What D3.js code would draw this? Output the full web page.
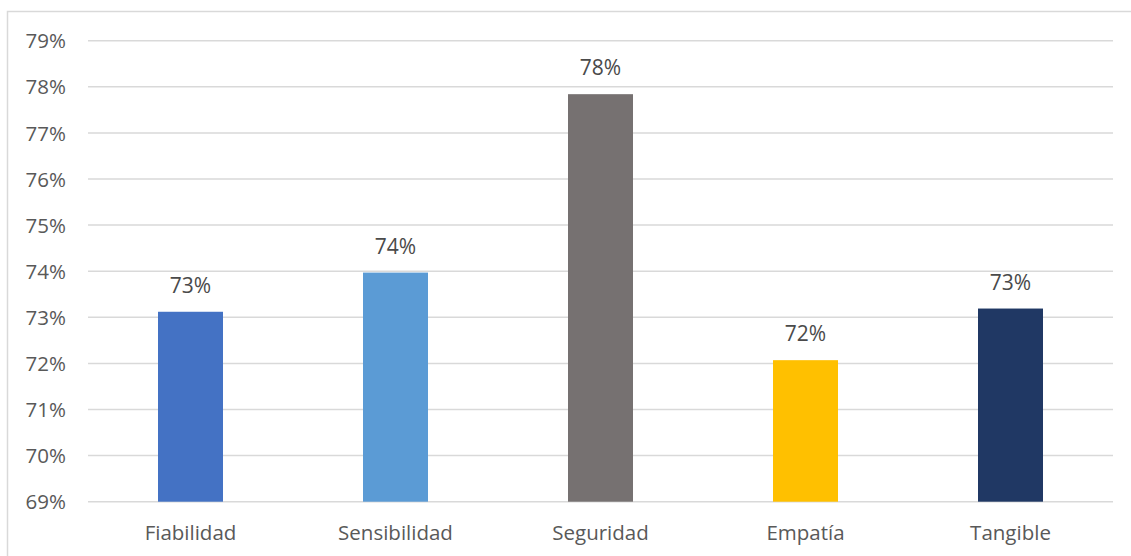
<!DOCTYPE html>
<html><head><meta charset="utf-8">
<script src="https://cdn.jsdelivr.net/npm/d3@7"></script>
<style>body{margin:0;background:#fff}svg{display:block}text{font-family:"Open Sans","Noto Sans",sans-serif}</style>
</head><body>
<script>
const categories = ["Fiabilidad","Sensibilidad","Seguridad","Empatía","Tangible"];
const values = [0.7312, 0.7397, 0.7784, 0.7207, 0.7319];
const valueLabels = ["73%","74%","78%","72%","73%"];
const colors = ["#4472C4","#5B9BD5","#767171","#FFC000","#203864"];
const yTicks = [0.69,0.70,0.71,0.72,0.73,0.74,0.75,0.76,0.77,0.78,0.79];

const W = 1131, H = 556;
const svg = d3.select("body").append("svg").attr("width", W).attr("height", H);
svg.append("rect").attr("x",7.5).attr("y",11.5).attr("width",W+20).attr("height",H+20)
  .attr("fill","#fff").attr("stroke","#d9d9d9").attr("stroke-width",1.5);

const x = d3.scaleBand().domain(categories).range([88,1113]).paddingInner(0.683).paddingOuter(0.3415);
const y = d3.scaleLinear().domain([0.69,0.79]).range([501.7,40.7]);

const grid = svg.append("g");
grid.selectAll("line").data(yTicks).join("line")
  .attr("x1",88).attr("x2",1113).attr("y1",d=>y(d)).attr("y2",d=>y(d))
  .attr("stroke","#d9d9d9").attr("stroke-width",1.5);

const yAxis = d3.axisLeft(y).tickValues(yTicks).tickFormat(d3.format(".0%")).tickSize(0).tickPadding(22);
const gy = svg.append("g").attr("transform","translate(88,0)").call(yAxis);
gy.select(".domain").remove();
gy.selectAll("text").attr("fill","#595959").style("font-size","20.5px").attr("dy","0.35em");

svg.append("g").selectAll("rect").data(values).join("rect")
  .attr("x",(d,i)=>x(categories[i])).attr("width",x.bandwidth())
  .attr("y",d=>y(d)).attr("height",d=>y(0.69)-y(d))
  .attr("fill",(d,i)=>colors[i]);

svg.append("g").selectAll("text").data(values).join("text")
  .attr("x",(d,i)=>x(categories[i])+x.bandwidth()/2).attr("y",d=>y(d)-19)
  .attr("text-anchor","middle").attr("fill","#4a4a4a").style("font-size","21px")
  .text((d,i)=>valueLabels[i]);

const xAxis = d3.axisBottom(x).tickSize(0).tickPadding(24);
const gx = svg.append("g").attr("transform","translate(0,501.7)").call(xAxis);
gx.select(".domain").remove();
gx.selectAll("text").attr("fill","#595959").style("font-size","20.5px");
</script>
</body></html>
